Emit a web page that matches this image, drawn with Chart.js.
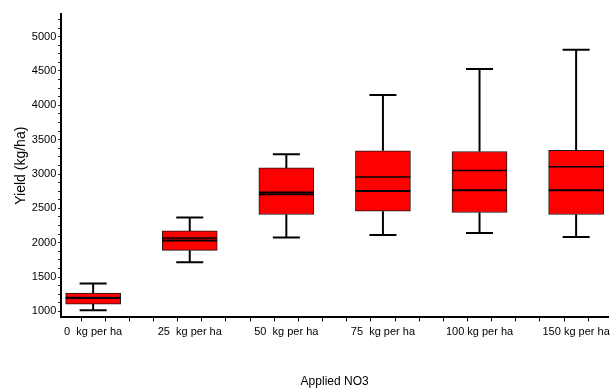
<!DOCTYPE html>
<html>
<head>
<meta charset="utf-8">
<script src="https://cdn.jsdelivr.net/npm/chart.js@4/dist/chart.umd.min.js"></script>
<style>
  html, body { margin: 0; padding: 0; background: #fff; }
  canvas { display: block; }
</style>
</head>
<body>
<canvas id="chart" width="612" height="390"></canvas>
<script>
// ── Data ──────────────────────────────────────────────────────────────────────
const CATEGORIES   = ['0  kg per ha', '25  kg per ha', '50  kg per ha', '75  kg per ha', '100 kg per ha', '150 kg per ha'];
const WHISKER_LOW  = [1015, 1714, 2074, 2112, 2141, 2083];
const Q1           = [1106, 1889, 2410, 2458, 2439, 2410];
const MEDIAN       = [1194, 2030, 2706, 2754, 2764, 2764];
const MEAN         = [1200, 2068, 2735, 2958, 3051, 3104];
const Q3           = [1267, 2171, 3089, 3337, 3328, 3343];
const WHISKER_HIGH = [1404, 2366, 3289, 4149, 4528, 4809];
const Y_LABEL_STEP = 500;

// ── Style ─────────────────────────────────────────────────────────────────────
const FONT  = { family: 'Liberation Sans, Arial, sans-serif', size: 11 };
const INK   = '#000';
const BOX_W = 55;      // px
const HALF  = 0.283;   // box half-width in category units
const CAP   = 0.14;    // whisker cap half-width in category units

// ── Build datasets from the arrays ────────────────────────────────────────────
const boxes = CATEGORIES.map((_, i) => ({ x: i, y: [Q1[i], Q3[i]] }));

const whiskers = [];
const caps = [];
const medians = [];
const means = [];
CATEGORIES.forEach((_, i) => {
  whiskers.push({ x: i, y: WHISKER_LOW[i] }, { x: i, y: Q1[i] }, { x: i, y: null },
                { x: i, y: Q3[i] }, { x: i, y: WHISKER_HIGH[i] }, { x: i, y: null });
  caps.push({ x: i - CAP, y: WHISKER_LOW[i] }, { x: i + CAP, y: WHISKER_LOW[i] }, { x: i, y: null },
            { x: i - CAP, y: WHISKER_HIGH[i] }, { x: i + CAP, y: WHISKER_HIGH[i] }, { x: i, y: null });
  medians.push({ x: i - HALF, y: MEDIAN[i] }, { x: i + HALF, y: MEDIAN[i] }, { x: i, y: null });
  means.push({ x: i - HALF, y: MEAN[i] }, { x: i + HALF, y: MEAN[i] }, { x: i, y: null });
});

function segDS(data, width) {
  return {
    type: 'line', data,
    borderColor: INK, borderWidth: width,
    pointRadius: 0, spanGaps: false, fill: false,
    tension: 0, order: 1,
  };
}

new Chart(document.getElementById('chart').getContext('2d'), {
  type: 'bar',
  data: {
    datasets: [
      {
        data: boxes,
        backgroundColor: '#ff0000',
        borderColor: '#1a1a1a',
        borderWidth: 1,
        borderSkipped: false,
        barThickness: BOX_W,
        grouped: false,
        order: 2,
      },
      segDS(whiskers, 2),
      segDS(caps, 2),
      segDS(medians, 2),
      segDS(means, 1.5),
    ],
  },
  options: {
    responsive: false, animation: false,
    layout: { padding: { left: 9, right: 4, top: 14, bottom: -3 } },
    plugins: { legend: { display: false }, tooltip: { enabled: false } },
    scales: {
      x: {
        type: 'linear', offset: false,
        min: -0.33, max: 5.33,
        grid: { drawOnChartArea: false, drawTicks: true, tickLength: 4, color: INK, tickWidth: 1 },
        border: { color: INK, width: 2 },
        ticks: {
          stepSize: 0.25, includeBounds: false, autoSkip: false, maxRotation: 0,
          color: INK, font: FONT, padding: 4,
          callback: v => Number.isInteger(v) ? CATEGORIES[v] : '',
        },
        title: { display: true, text: 'Applied NO3', color: INK, font: { ...FONT, size: 12 }, padding: { top: 32 } },
      },
      y: {
        min: 912, max: 5330,
        grid: { drawOnChartArea: false, drawTicks: true, tickLength: 3, color: INK, tickWidth: 1 },
        border: { color: INK, width: 2 },
        ticks: {
          stepSize: 125, includeBounds: false, autoSkip: false,
          color: INK, font: FONT, padding: 2,
          callback: v => v % Y_LABEL_STEP === 0 ? String(v) : '',
        },
        title: { display: true, text: 'Yield (kg/ha)', color: INK, font: { ...FONT, size: 14 }, padding: { bottom: 0 } },
      },
    },
  },
});
</script>
</body>
</html>
